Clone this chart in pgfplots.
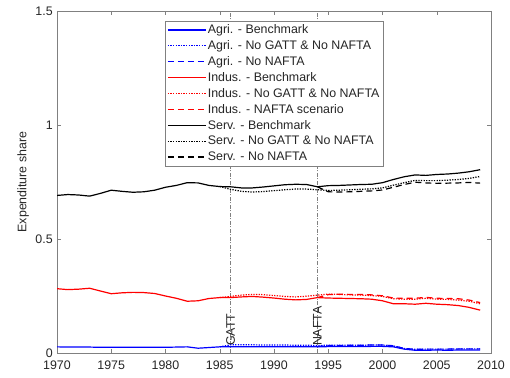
\documentclass[border=0pt]{standalone}
\usepackage{fontspec}
\setmainfont{Liberation Sans}
\usepackage{pgfplots}
\pgfplotsset{compat=1.18}
\definecolor{axgray}{rgb}{0.5,0.5,0.5}
\definecolor{txtgray}{rgb}{0.15,0.15,0.15}
\definecolor{mblue}{rgb}{0,0,1}
\definecolor{mred}{rgb}{1,0,0}
\newcommand{\ff}{\fontsize{12.4}{14}\selectfont}
\newcommand{\lt}[1]{\textcolor{txtgray}{#1}}
\tikzset{
  sBench/.style={line width=1.2pt, solid},
  sGatt/.style={line width=1.2pt, dash pattern=on 1.3pt off 1.3pt},
  sNafta/.style={line width=1.2pt, dash pattern=on 6pt off 4pt},
}
\pgfplotsset{
  lim/.style 2 args={legend image code/.code={\draw[draw=#1, #2] (0pt,0pt) -- (38pt,0pt);}},
}
\begin{document}
\ff
\begin{tikzpicture}
\begin{axis}[
  scale only axis, width=434pt, height=342pt,
  xmin=1970, xmax=2010, ymin=0, ymax=1.5,
  xtick={1970,1975,...,2010}, ytick={0,0.5,1,1.5},
  yticklabels={0,0.5,1,1.5},
  xticklabel style={/pgf/number format/1000 sep={}},
  xticklabel shift=4pt,
  /pgf/number format/assume math mode=true,
  tick align=inside, major tick length=4pt,
  axis line style={draw=axgray}, every tick/.style={draw=axgray},
  tick label style={font=\ff, text=txtgray},
  ylabel={Expenditure share},
  every axis y label/.style={at={(axis description cs:-0.078,0.5)}, rotate=90, anchor=center, font=\ff, text=txtgray},
  legend cell align=left,
  legend style={at={(0.249,0.971)}, anchor=north west, draw=none, fill=white,
    font=\ff, row sep=2.3pt, inner sep=2pt, name=leg,
    nodes={inner sep=1.4pt}},
]
% vertical event lines
\addplot[forget plot, axgray, line width=0.5pt, dash pattern=on 4pt off 1.5pt on 1pt off 1.5pt] coordinates {(1986,0) (1986,1.5)};
\addplot[forget plot, axgray, line width=0.5pt, dash pattern=on 4pt off 1.5pt on 1pt off 1.5pt] coordinates {(1994,0) (1994,1.5)};

% Agri
\addplot[draw=mblue, sBench, lim={mblue}{sBench}] coordinates {
(1970,0.027)(1971,0.026)(1972,0.026)(1973,0.026)(1974,0.025)(1975,0.025)(1976,0.025)(1977,0.025)(1978,0.025)(1979,0.025)
(1980,0.025)(1981,0.026)(1982,0.027)(1983,0.021)(1984,0.024)(1985,0.027)(1986,0.027)(1987,0.027)(1988,0.027)(1989,0.027)
(1990,0.027)(1991,0.027)(1992,0.027)(1993,0.027)(1994,0.027)(1995,0.028)(1996,0.028)(1997,0.028)(1998,0.028)(1999,0.029)
(2000,0.029)(2001,0.027)(2002,0.017)(2003,0.012)(2004,0.012)(2005,0.013)(2006,0.012)(2007,0.013)(2008,0.013)(2009,0.013)};
\addlegendentry{\lt{Agri. - Benchmark}}
\addplot[draw=mblue, sGatt, lim={mblue}{sGatt}] coordinates {
(1985,0.027)(1986,0.036)(1987,0.036)(1988,0.036)(1989,0.035)(1990,0.035)(1991,0.035)(1992,0.034)(1993,0.034)(1994,0.033)
(1995,0.034)(1996,0.034)(1997,0.034)(1998,0.034)(1999,0.035)(2000,0.035)(2001,0.031)(2002,0.020)(2003,0.016)(2004,0.017)
(2005,0.017)(2006,0.017)(2007,0.018)(2008,0.018)(2009,0.018)};
\addlegendentry{\lt{Agri. - No GATT \& No NAFTA}}
\addplot[draw=mblue, sNafta, lim={mblue}{sNafta}] coordinates {
(1994,0.028)(1995,0.033)(1996,0.033)(1997,0.034)(1998,0.034)(1999,0.035)(2000,0.035)(2001,0.032)(2002,0.020)(2003,0.016)
(2004,0.017)(2005,0.017)(2006,0.017)(2007,0.018)(2008,0.018)(2009,0.018)};
\addlegendentry{\lt{Agri. - No NAFTA}}

% Indus
\addplot[draw=mred, sBench, lim={mred}{sBench}] coordinates {
(1970,0.282)(1971,0.278)(1972,0.280)(1973,0.284)(1974,0.272)(1975,0.260)(1976,0.264)(1977,0.266)(1978,0.265)(1979,0.261)
(1980,0.250)(1981,0.240)(1982,0.227)(1983,0.229)(1984,0.239)(1985,0.243)(1986,0.243)(1987,0.246)(1988,0.248)(1989,0.245)
(1990,0.241)(1991,0.236)(1992,0.233)(1993,0.235)(1994,0.243)(1995,0.241)(1996,0.240)(1997,0.239)(1998,0.238)(1999,0.236)
(2000,0.229)(2001,0.216)(2002,0.216)(2003,0.214)(2004,0.218)(2005,0.214)(2006,0.212)(2007,0.208)(2008,0.200)(2009,0.188)};
\addlegendentry{\lt{Indus. - Benchmark}}
\addplot[draw=mred, sGatt, lim={mred}{sGatt}] coordinates {
(1985,0.243)(1986,0.248)(1987,0.254)(1988,0.257)(1989,0.256)(1990,0.252)(1991,0.248)(1992,0.246)(1993,0.249)(1994,0.254)
(1995,0.258)(1996,0.257)(1997,0.255)(1998,0.254)(1999,0.252)(2000,0.248)(2001,0.238)(2002,0.236)(2003,0.236)(2004,0.240)
(2005,0.236)(2006,0.235)(2007,0.232)(2008,0.227)(2009,0.216)};
\addlegendentry{\lt{Indus. - No GATT \& No NAFTA}}
\addplot[draw=mred, sNafta, lim={mred}{sNafta}] coordinates {
(1994,0.243)(1995,0.256)(1996,0.258)(1997,0.257)(1998,0.257)(1999,0.255)(2000,0.251)(2001,0.241)(2002,0.240)(2003,0.240)
(2004,0.244)(2005,0.240)(2006,0.239)(2007,0.238)(2008,0.232)(2009,0.221)};
\addlegendentry{\lt{Indus. - NAFTA scenario}}

% Serv
\addplot[draw=black, sBench, lim={black}{sBench}] coordinates {
(1970,0.691)(1971,0.695)(1972,0.693)(1973,0.688)(1974,0.700)(1975,0.714)(1976,0.709)(1977,0.705)(1978,0.707)(1979,0.714)
(1980,0.727)(1981,0.735)(1982,0.747)(1983,0.746)(1984,0.735)(1985,0.730)(1986,0.729)(1987,0.724)(1988,0.724)(1989,0.728)
(1990,0.733)(1991,0.738)(1992,0.740)(1993,0.739)(1994,0.729)(1995,0.734)(1996,0.735)(1997,0.737)(1998,0.739)(1999,0.740)
(2000,0.747)(2001,0.761)(2002,0.773)(2003,0.781)(2004,0.779)(2005,0.783)(2006,0.785)(2007,0.789)(2008,0.795)(2009,0.804)};
\addlegendentry{\lt{Serv. - Benchmark}}
\addplot[draw=black, sGatt, lim={black}{sGatt}] coordinates {
(1985,0.730)(1986,0.718)(1987,0.709)(1988,0.706)(1989,0.708)(1990,0.712)(1991,0.716)(1992,0.719)(1993,0.719)(1994,0.716)
(1995,0.713)(1996,0.714)(1997,0.716)(1998,0.718)(1999,0.720)(2000,0.724)(2001,0.736)(2002,0.747)(2003,0.757)(2004,0.756)
(2005,0.756)(2006,0.758)(2007,0.761)(2008,0.766)(2009,0.774)};
\addlegendentry{\lt{Serv. - No GATT \& No NAFTA}}
\addplot[draw=black, sNafta, lim={black}{sNafta}] coordinates {
(1994,0.729)(1995,0.707)(1996,0.706)(1997,0.707)(1998,0.709)(1999,0.711)(2000,0.715)(2001,0.727)(2002,0.739)(2003,0.749)
(2004,0.746)(2005,0.744)(2006,0.745)(2007,0.746)(2008,0.748)(2009,0.745)};
\addlegendentry{\lt{Serv. - No NAFTA}}

\node[rotate=90, anchor=west, text=txtgray, inner sep=0pt, font=\ff] at (axis cs:1986,0.03) {GATT};
\node[rotate=90, anchor=west, text=txtgray, inner sep=0pt, font=\ff] at (axis cs:1994,0.03) {NAFTA};
\end{axis}
\draw[axgray, line width=0.5pt] (leg.south west) rectangle (leg.north east);
\pgfresetboundingbox
\path (-57pt,-24pt) rectangle (453pt,353pt);
\end{tikzpicture}
\end{document}
